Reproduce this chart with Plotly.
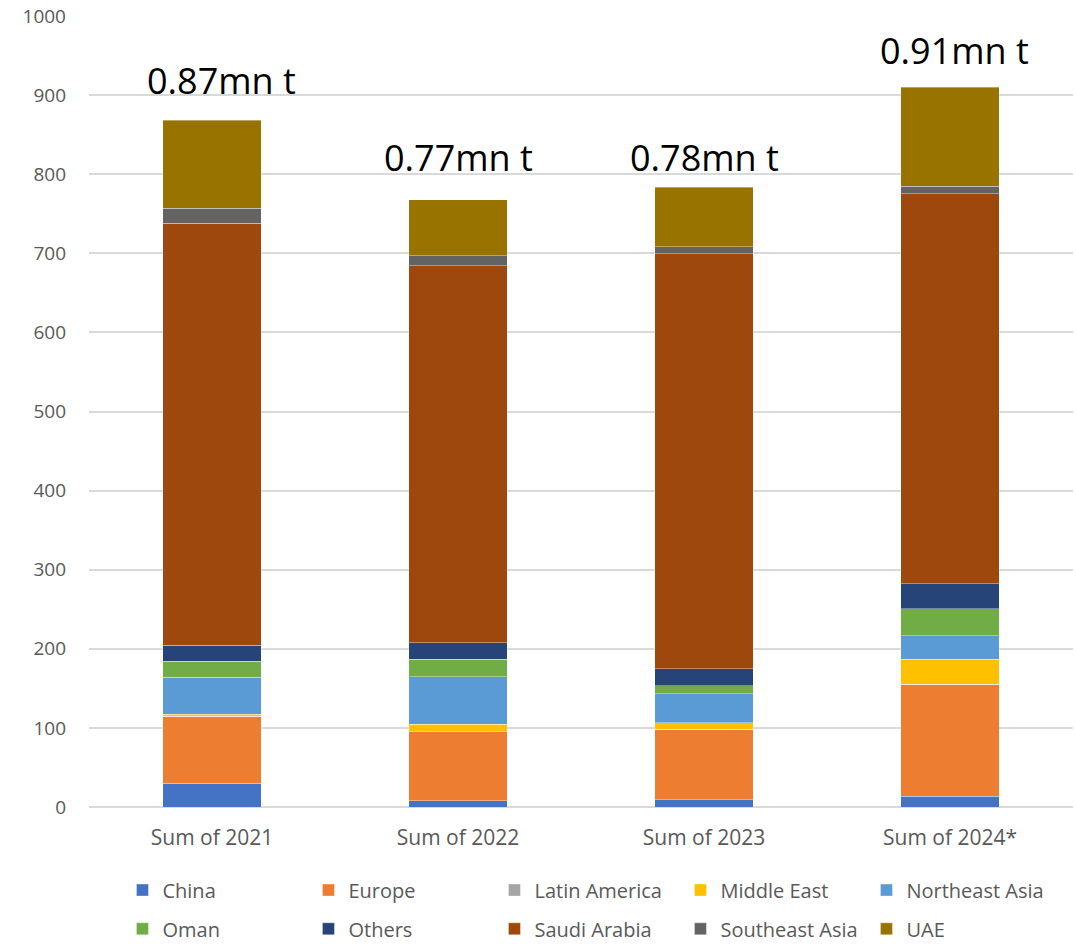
import plotly.graph_objects as go

categories = ["Sum of 2021", "Sum of 2022", "Sum of 2023", "Sum of 2024*"]

china = [30, 7.6, 9.3, 13.9]
europe = [85, 87.7, 88.9, 141.6]
latin_america = [0, 0, 0, 0]
middle_east = [2.5, 9.6, 8.5, 31.2]
northeast_asia = [46.4, 59.9, 36.2, 30]
oman = [20.2, 21.9, 10.6, 34.1]
others = [20.2, 21.1, 21, 31.6]
saudi_arabia = [533.5, 476.6, 525.1, 493.1]
southeast_asia = [19, 12.6, 8.4, 9.2]
uae = [111.6, 70.9, 75.8, 125.2]

total_labels = ["0.87mn t", "0.77mn t", "0.78mn t", "0.91mn t"]
label_y = [919, 821, 821, 957]
label_dx = [0.04, 0.0, 0.0, 0.02]

series = [
    ("China", china, "#4472C4"),
    ("Europe", europe, "#ED7D31"),
    ("Latin America", latin_america, "#A5A5A5"),
    ("Middle East", middle_east, "#FFC000"),
    ("Northeast Asia", northeast_asia, "#5B9BD5"),
    ("Oman", oman, "#70AD47"),
    ("Others", others, "#264478"),
    ("Saudi Arabia", saudi_arabia, "#9E480E"),
    ("Southeast Asia", southeast_asia, "#636363"),
    ("UAE", uae, "#997300"),
]

fig = go.Figure()
for i, (name, vals, color) in enumerate(series):
    fig.add_trace(go.Bar(
        x=list(range(len(categories))), y=vals, name=name,
        marker=dict(color=color, line=dict(color="rgba(255,255,255,0.6)", width=0.6)),
        legend="legend" if i < 5 else "legend2",
    ))

for i, (t, yv, dx) in enumerate(zip(total_labels, label_y, label_dx)):
    fig.add_annotation(x=i + dx, y=yv, text=t, showarrow=False,
                       font=dict(size=36, color="#000000", family="Open Sans"),
                       xref="x", yref="y")

legend_common = dict(
    orientation="h", traceorder="normal",
    font=dict(size=20, color="#595959", family="Open Sans"),
    entrywidth=141, entrywidthmode="pixels",
    xref="paper", yref="paper", xanchor="left", yanchor="middle",
    bgcolor="rgba(0,0,0,0)",
)

fig.update_layout(
    width=1076, height=944,
    margin=dict(l=89, r=3, t=16, b=137, autoexpand=False),
    paper_bgcolor="white", plot_bgcolor="white",
    barmode="stack", bargap=0.6,
    font=dict(family="Open Sans", color="#595959"),
    legend=dict(**legend_common, x=0.034, y=-0.105),
    legend2=dict(**legend_common, x=0.034, y=-0.154),
    xaxis=dict(
        tickmode="array", tickvals=list(range(len(categories))), ticktext=categories,
        range=[-0.5, len(categories) - 0.5],
        showgrid=False, showline=False, zeroline=False,
        tickfont=dict(size=21, color="#595959"), ticklabelstandoff=16,
    ),
    yaxis=dict(
        range=[0, 1000], dtick=100, showgrid=True, gridcolor="#d9d9d9", gridwidth=1.5,
        zeroline=True, zerolinecolor="#d9d9d9", zerolinewidth=1.5,
        showline=False, tickfont=dict(size=19, color="#595959"), ticklabelstandoff=22,
    ),
    showlegend=True,
)

fig.write_html("out.html")
